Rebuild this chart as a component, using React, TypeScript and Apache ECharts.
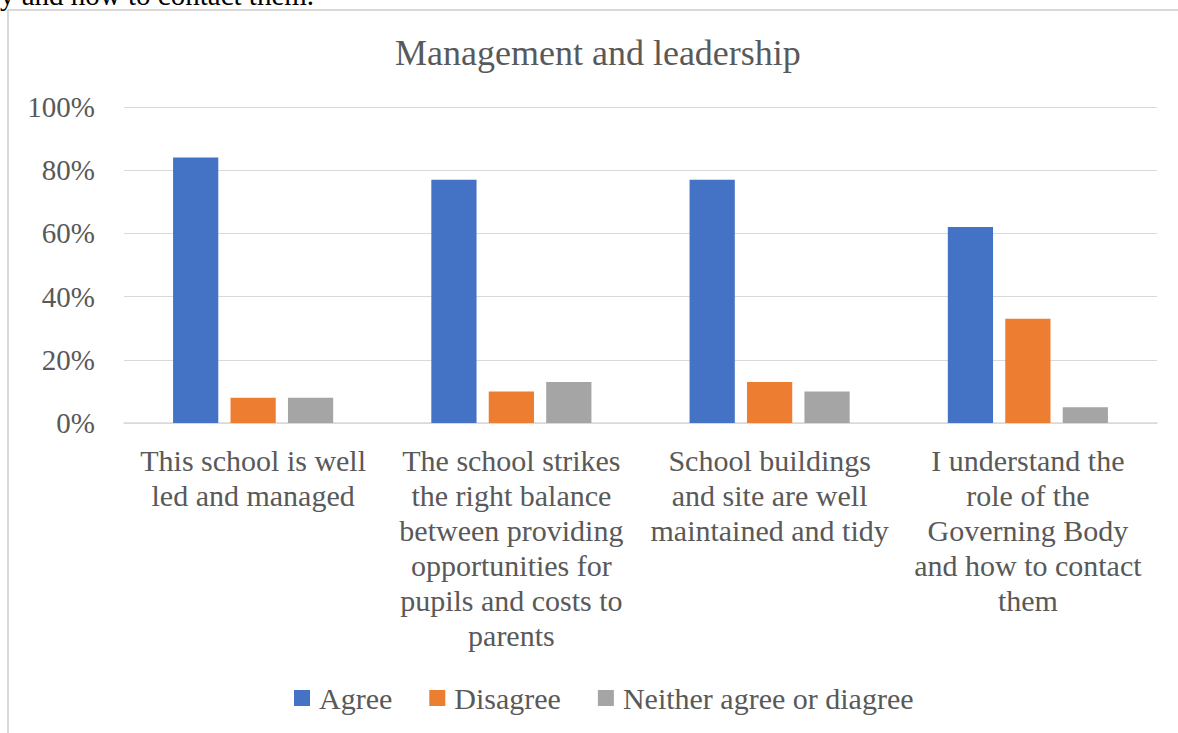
import React, { useEffect, useRef } from "react";
import * as echarts from "echarts";

const categories = [
  "This school is well\nled and managed",
  "The school strikes\nthe right balance\nbetween providing\nopportunities for\npupils and costs to\nparents",
  "School buildings\nand site are well\nmaintained and tidy",
  "I understand the\nrole of the\nGoverning Body\nand how to contact\nthem",
];
const agree = [84, 77, 77, 62];
const disagree = [8, 10, 13, 33];
const neither = [8, 13, 10, 5];
const yTicks = { min: 0, max: 100, interval: 20 };

const FONT = "Liberation Serif";
const GREY = "#595959";

export default function App() {
  const ref = useRef<HTMLDivElement>(null);
  useEffect(() => {
    if (!ref.current) return;
    const chart = echarts.init(ref.current, undefined, { renderer: "svg" });
    chart.setOption({
      animation: false,
      backgroundColor: "#ffffff",
      textStyle: { fontFamily: FONT },
      title: {
        text: "Management and leadership",
        left: 390,
        top: 30,
        textStyle: { fontFamily: FONT, fontSize: 36, fontWeight: "normal", color: GREY },
      },
      graphic: [
        {
          type: "text",
          style: {
            x: 0,
            y: 9,
            text: "y and how to contact them.",
            fontFamily: FONT,
            fontSize: 29,
            fill: "#000",
            verticalAlign: "bottom",
          },
        },
        { type: "line", shape: { x1: 8, y1: 10, x2: 1178, y2: 10 }, style: { stroke: "#d9d9d9", lineWidth: 2 } },
        { type: "line", shape: { x1: 8, y1: 10, x2: 8, y2: 733 }, style: { stroke: "#d9d9d9", lineWidth: 2 } },
      ],
      legend: {
        bottom: 15,
        left: 289,
        itemWidth: 16,
        itemHeight: 16,
        itemGap: 37,
        icon: "rect",
        textStyle: { fontFamily: FONT, fontSize: 30, color: GREY, padding: [0, 0, 0, 4] },
        data: ["Agree", "Disagree", "Neither agree or diagree"],
      },
      grid: { left: 124, right: 21, top: 107, bottom: 310 },
      xAxis: {
        type: "category",
        data: categories,
        axisLine: { lineStyle: { color: "#d9d9d9", width: 1.5 } },
        axisTick: { show: false },
        axisLabel: {
          interval: 0,
          margin: 20,
          fontFamily: FONT,
          fontSize: 30,
          lineHeight: 35,
          color: GREY,
        },
      },
      yAxis: {
        type: "value",
        min: yTicks.min,
        max: yTicks.max,
        interval: yTicks.interval,
        axisLine: { show: false },
        axisTick: { show: false },
        splitLine: { lineStyle: { color: "#d9d9d9", width: 1 } },
        axisLabel: { formatter: "{value}%", margin: 29, fontFamily: FONT, fontSize: 29, color: GREY },
      },
      series: [
        { name: "Agree", type: "bar", data: agree, itemStyle: { color: "#4472c4" }, barGap: "27%", barCategoryGap: "38%" },
        { name: "Disagree", type: "bar", data: disagree, itemStyle: { color: "#ed7d31" } },
        { name: "Neither agree or diagree", type: "bar", data: neither, itemStyle: { color: "#a5a5a5" } },
      ],
    });
    return () => chart.dispose();
  }, []);
  return (
    <div
      ref={ref}
      style={{ position: "fixed", left: 0, top: 0, width: 1178, height: 733 }}
    />
  );
}
